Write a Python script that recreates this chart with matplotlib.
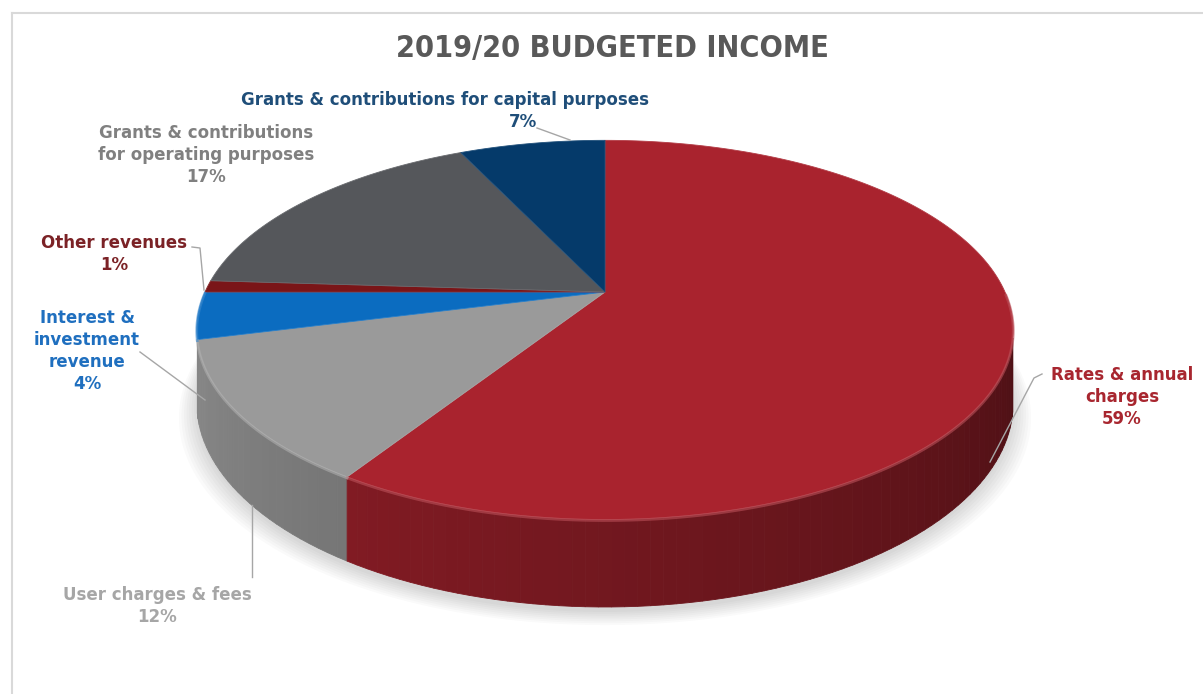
import numpy as np
import matplotlib.pyplot as plt
from matplotlib.patches import Polygon
from matplotlib import font_manager

title = "2019/20 BUDGETED INCOME"
categories = [
    "Rates & annual\ncharges",
    "User charges & fees",
    "Interest &\ninvestment\nrevenue",
    "Other revenues",
    "Grants & contributions\nfor operating purposes",
    "Grants & contributions for capital purposes",
]
shares = [59, 12, 4, 1, 17, 7]
top_colors = ["#A9232E", "#9A9A9A", "#0B6CC0", "#7A1518", "#55575B", "#053A6A"]
label_colors = ["#A8262F", "#A6A6A6", "#1F6FBF", "#7B2226", "#808080", "#1F4E79"]

# label anchor (centre of text block) and leader line points, in pixels
label_pos = [(1122, 397), (157, 606), (87, 351), (114, 254), (206, 155), (445, 100)]
pct_pos = [None, None, None, None, None, (523, 122)]
leaders = [
    [(1042, 374), (1034, 378), (990, 462)],
    [(252, 577), (252, 505)],
    [(140, 352), (205, 400)],
    [(192, 247), (200, 248), (204, 290)],
    None,
    [(537, 128), (570, 140)],
]

W, H = 1203, 694
CX, CY = 605, 292
A, B, K = 400, 182, 0.2
DEPTH = 70


def project(phi, drop=0.0, a=A):
    # phi runs clockwise from the back of the disc (top of the picture)
    u = np.sin(phi)
    v = -np.cos(phi)
    w = 1 - K * v
    return CX + a * u / w, CY + (B * v + drop) / w


def shade(hex_color, f):
    rgb = np.array(plt.matplotlib.colors.to_rgb(hex_color))
    return tuple(np.clip(rgb * f, 0, 1))


def lighten(hex_color, t):
    rgb = np.array(plt.matplotlib.colors.to_rgb(hex_color))
    return tuple(rgb + (1 - rgb) * t)


# narrow title face if one is around
condensed = any(f.name == "DejaVu Sans" and f.stretch in ("condensed", "semi-condensed")
                for f in font_manager.fontManager.ttflist)
title_kw = dict(fontstretch="condensed", fontsize=22) if condensed else dict(fontsize=20)

fig = plt.figure(figsize=(W / 100, H / 100), dpi=100)
ax = fig.add_axes([0, 0, 1, 1])
ax.set_xlim(0, W)
ax.set_ylim(H, 0)
ax.axis("off")

# chart area border
ax.plot([12, 12], [13, H], color="#D9D9D9", lw=1.5)
ax.plot([12, W], [13, 13], color="#D9D9D9", lw=1.5)

edges = np.concatenate([[0], np.cumsum(shares)]) / sum(shares) * 2 * np.pi

# soft shadow under the disc
full = np.linspace(0, 2 * np.pi, 361)
for s in range(8):
    sx, sy = project(full, DEPTH + 4 + s * 1.5, A + s * 2.5)
    ax.add_patch(Polygon(np.column_stack([sx, sy]), closed=True,
                         facecolor="black", edgecolor="none", alpha=0.02, zorder=1))

# side wall, split into thin strips so it can be shaded round the rim;
# only the strips facing the viewer are drawn
strips = []
for i, (a0, a1) in enumerate(zip(edges[:-1], edges[1:])):
    n = max(2, int(np.degrees(a1 - a0) / 1.5))
    t = np.linspace(a0, a1, n + 1)
    for p, q in zip(t[:-1], t[1:]):
        v = -np.cos((p + q) / 2)
        if v > 0.245:
            strips.append((v, i, p, q))
strips.sort()
for v, i, p, q in strips:
    deg = np.degrees((p + q) / 2)
    f = 0.45 + 0.42 * np.clip((deg - 100) / 150, 0, 1)
    x0, y0 = project(np.array([p, q]))
    x1, y1 = project(np.array([q, p]), DEPTH)
    pts = np.column_stack([np.r_[x0, x1], np.r_[y0, y1]])
    c = shade(top_colors[i], f)
    ax.add_patch(Polygon(pts, closed=True, facecolor=c, edgecolor=c, lw=0.6, zorder=2))

# top face slices
for i, (a0, a1) in enumerate(zip(edges[:-1], edges[1:])):
    t = np.linspace(a0, a1, 200)
    x, y = project(t)
    pts = np.column_stack([np.r_[CX, x], np.r_[CY, y]])
    ax.add_patch(Polygon(pts, closed=True, facecolor=top_colors[i],
                         edgecolor=lighten(top_colors[i], 0.12), lw=0.6, zorder=3))
    # bevel highlight on the front rim
    front = t[(t > np.pi / 2) & (t < 1.5 * np.pi)]
    if len(front) > 1:
        fx, fy = project(front)
        ax.plot(fx, fy + 1, color=lighten(top_colors[i], 0.2), lw=2, alpha=0.6, zorder=4)

ax.text(612, 48, title, ha="center", va="center", fontweight="bold",
        color="#595959", **title_kw)

for i, name in enumerate(categories):
    pct = f"{shares[i]}%"
    lx, ly = label_pos[i]
    if pct_pos[i] is None:
        ax.text(lx, ly, name + "\n" + pct, ha="center", va="center",
                multialignment="center", fontsize=12, fontweight="bold",
                color=label_colors[i], linespacing=1.3, zorder=5)
    else:
        ax.text(lx, ly, name, ha="center", va="center", fontsize=12,
                fontweight="bold", color=label_colors[i], zorder=5)
        px, py = pct_pos[i]
        ax.text(px, py, pct, ha="center", va="center", fontsize=12,
                fontweight="bold", color=label_colors[i], zorder=5)
    if leaders[i] is not None:
        lxs, lys = zip(*leaders[i])
        ax.plot(lxs, lys, color="#A6A6A6", lw=1, zorder=5)

fig.savefig("out.png", dpi=100)
